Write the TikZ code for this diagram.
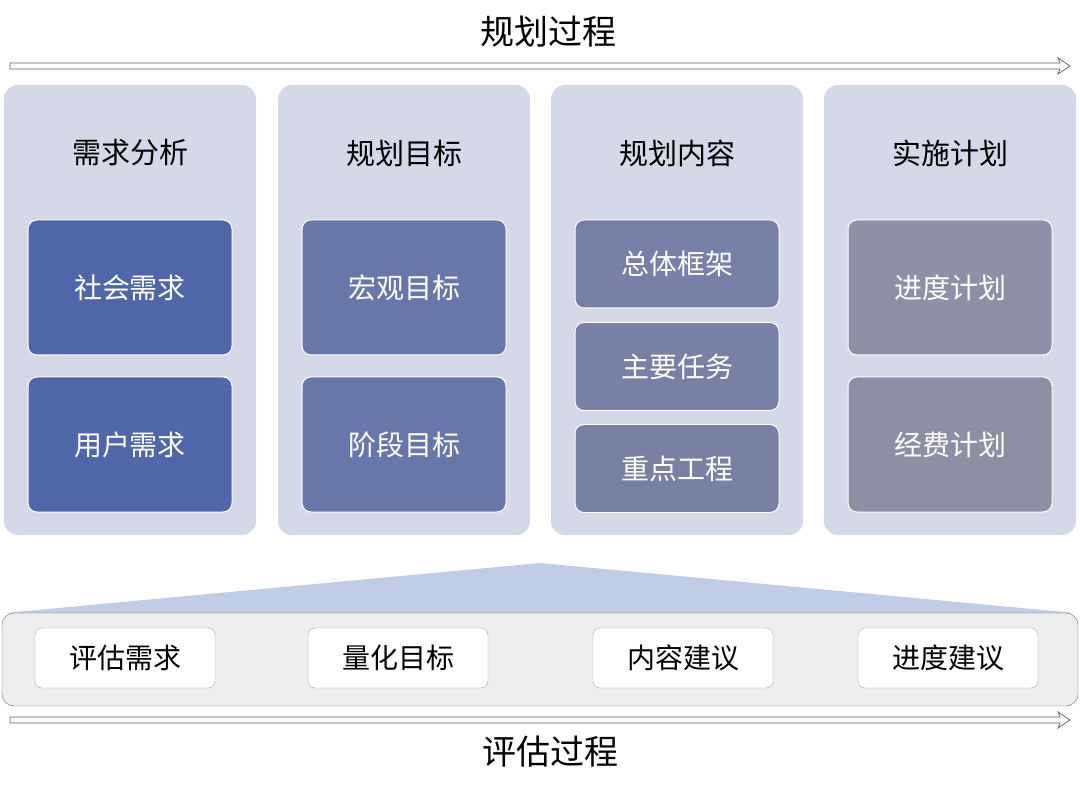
\documentclass[tikz,border=0pt]{standalone}
\usepackage{fontspec}
\setmainfont{Noto Sans CJK SC}
\definecolor{colbg}{HTML}{D5D8E7}
\definecolor{cA}{HTML}{4F67A9}
\definecolor{cB}{HTML}{6877AA}
\definecolor{cC}{HTML}{7980A8}
\definecolor{cD}{HTML}{8E90A7}
\definecolor{tri}{HTML}{C1CCE6}
\definecolor{bar}{HTML}{EEEEEE}
\tikzset{
  column/.style={fill=colbg, rounded corners=14pt},
  item/.style={draw=white, line width=1pt, rounded corners=9pt, text=white, font=\fontsize{28}{30}\selectfont},
  evalbox/.style={draw=gray!70, fill=white, rounded corners=7pt, font=\fontsize{28}{30}\selectfont},
  coltitle/.style={font=\fontsize{29}{31}\selectfont},
  flow/.style={draw=gray!80!black, fill=white, line width=0.8pt},
}
\begin{document}
\begin{tikzpicture}[x=1pt,y=-1pt]
  \useasboundingbox (0,0) rectangle (1080,794);

  %process arrows
  \draw[flow] (10,63) -- (1060,63) -- (1058,58) -- (1070,66) -- (1058,74) -- (1060,69) -- (10,69) -- cycle;
  \draw[flow] (10,717) -- (1060,717) -- (1058,712) -- (1070,720) -- (1058,728) -- (1060,723) -- (10,723) -- cycle;
  \node[font=\fontsize{34}{36}\selectfont] (plan) at (548,32) {规划过程};
  \node[font=\fontsize{34}{36}\selectfont] (eval) at (550,752) {评估过程};

  %columns
  \foreach \x/\t [count=\i] in {4/需求分析,278/规划目标,551/规划内容,824/实施计划}{
    \fill[column] (\x,85) rectangle +(252,450);
    \node[coltitle] (title\i) at (\x+126,153) {\t};
  }

  %items
  \node[item, fill=cA, minimum width=204pt, minimum height=135pt] (social) at (130,287.5) {社会需求};
  \node[item, fill=cA, minimum width=204pt, minimum height=135pt] (user) at (130,444.5) {用户需求};
  \node[item, fill=cB, minimum width=204pt, minimum height=135pt] (macro) at (404,287.5) {宏观目标};
  \node[item, fill=cB, minimum width=204pt, minimum height=135pt] (stage) at (404,444.5) {阶段目标};
  \node[item, fill=cC, minimum width=204pt, minimum height=88pt] (frame) at (677,264) {总体框架};
  \node[item, fill=cC!95!gray, minimum width=204pt, minimum height=88pt] (task) at (677,366.5) {主要任务};
  \node[item, fill=cC!85!gray, minimum width=204pt, minimum height=88pt] (key) at (677,468.5) {重点工程};
  \node[item, fill=cD, minimum width=204pt, minimum height=135pt] (sched) at (950,287.5) {进度计划};
  \node[item, fill=cD!95!gray, minimum width=204pt, minimum height=135pt] (cost) at (950,444.5) {经费计划};

  %evaluation bar
  \fill[tri] (5,613) -- (540,563) -- (1075,613) -- cycle;
  \draw[gray!80!black, fill=bar, rounded corners=12pt] (2,613) rectangle (1078,706);
  \foreach \x/\t/\n in {125/评估需求/ev1,398/量化目标/ev2,683/内容建议/ev3,948/进度建议/ev4}{
    \node[evalbox, minimum width=180pt, minimum height=60pt] (\n) at (\x,658) {\t};
  }
\end{tikzpicture}
\end{document}
